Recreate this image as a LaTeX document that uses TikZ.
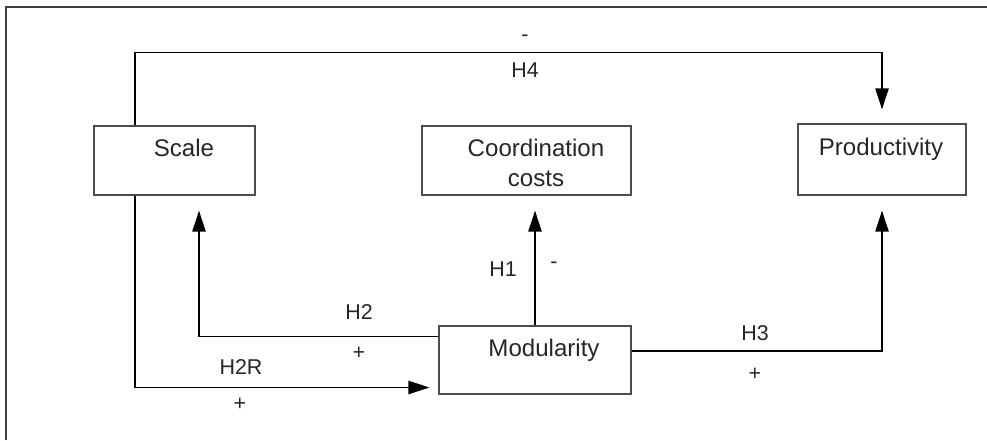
\documentclass[tikz,border=0pt]{standalone}
\usepackage{fontspec}
\setmainfont{Liberation Sans}
\usetikzlibrary{arrows.meta}
\begin{document}
\begin{tikzpicture}[
	box/.style={draw=black!70,line width=0.6pt,inner sep=0pt},
	txt/.style={font=\fontsize{13.7}{17.1}\selectfont,text=black!85,align=center},
	lbl/.style={font=\fontsize{12.2}{14}\selectfont,text=black!85},
	link/.style={line width=1.1pt,-{Triangle[length=12pt,width=7.5pt]}},
	]
	\useasboundingbox (0,0) rectangle (19.74,-8.8);
	\draw[black!75,line width=0.8pt] (0.12,-8.8) -- (0.12,-0.14) -- (19.74,-0.14);
	\node[box,minimum width=3.22cm,minimum height=1.38cm] (S) at (3.49,-3.21) {};
	\node[box,minimum width=4.18cm,minimum height=1.38cm] (C) at (10.53,-3.21) {};
	\node[box,minimum width=3.36cm,minimum height=1.42cm] (P) at (17.64,-3.19) {};
	\node[box,minimum width=3.84cm,minimum height=1.36cm] (M) at (10.70,-7.20) {};
	\node[txt,anchor=base] (St) at (3.68,-3.12) {Scale};
	\node[txt] (Ct) at (10.72,-3.25) {Coordination\\costs};
	\node[txt,anchor=base] (Pt) at (17.62,-3.10) {Productivity};
	\node[txt,anchor=base] (Mt) at (10.88,-7.12) {Modularity};
	\draw[link] ([xshift=-0.79cm]S.north) -- ++(0,1.46) -| ([yshift=0.28cm]P.north);
	\draw[link] ([xshift=-0.79cm]S.south) |- ([xshift=-0.18cm,yshift=0.14cm]M.south west);
	\draw[link] ([yshift=-0.22cm]M.north west) -| ([xshift=0.49cm,yshift=-0.30cm]S.south);
	\draw[link] (M.north) -- ([xshift=0.17cm,yshift=-0.30cm]C.south);
	\draw[link] ([yshift=0.18cm]M.east) -| ([yshift=-0.30cm]P.south);
	\node[lbl] (H4s) at (10.50,-0.76) {-};
	\node[lbl] (H4) at (10.50,-1.40) {H4};
	\node[lbl] (H2) at (7.18,-6.24) {H2};
	\node[lbl] (H2s) at (7.18,-7.06) {+};
	\node[lbl] (H2R) at (4.82,-7.34) {H2R};
	\node[lbl] (H2Rs) at (4.80,-8.08) {+};
	\node[lbl] (H1) at (10.06,-5.38) {H1};
	\node[lbl] (H1s) at (11.08,-5.30) {-};
	\node[lbl] (H3) at (15.10,-6.66) {H3};
	\node[lbl] (H3s) at (15.10,-7.48) {+};
\end{tikzpicture}
\end{document}
